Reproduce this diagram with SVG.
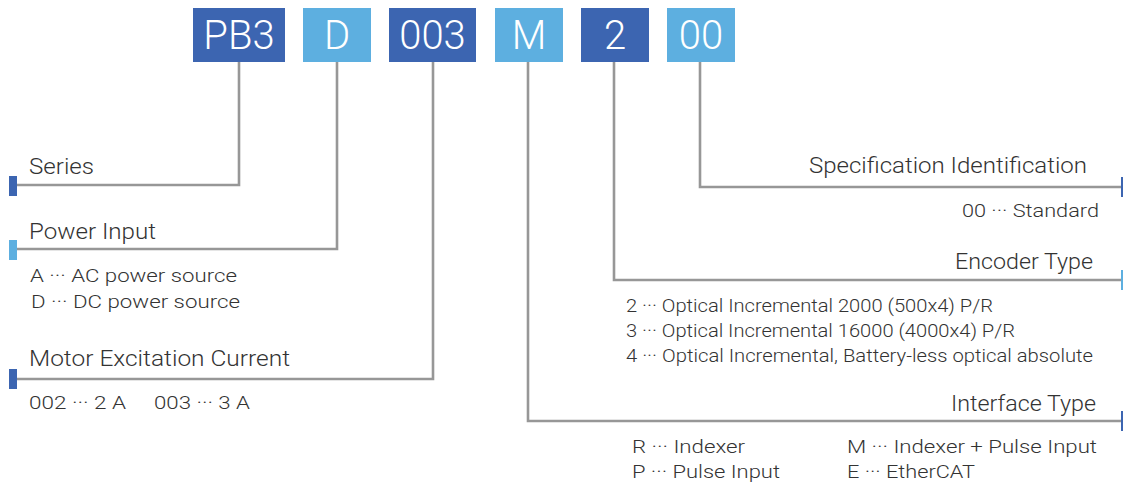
<svg xmlns="http://www.w3.org/2000/svg" width="1123" height="484" viewBox="0 0 1123 484">
<style>
.dk{fill:#3c65b1}
.lt{fill:#5dafe0}
.code{font-family:Roboto,"Liberation Sans",sans-serif;font-weight:300;font-size:40px;fill:#fff;text-anchor:middle}
.h{font-family:Roboto,"Liberation Sans",sans-serif;font-weight:300;font-size:22px;fill:#333}
.s{font-family:Roboto,"Liberation Sans",sans-serif;font-weight:300;font-size:18.5px;fill:#333}
.r{text-anchor:end}
.ln{fill:none;stroke:#979797;stroke-width:2.6}
</style>
<rect width="1123" height="484" fill="#fff"/>
<g id="connectors">
<path class="ln" d="M17,185 H239 V62"/>
<path class="ln" d="M17,249 H337 V62"/>
<path class="ln" d="M17,379 H433 V62"/>
<path class="ln" d="M700,62 V187 H1121"/>
<path class="ln" d="M614,62 V280 H1121"/>
<path class="ln" d="M528,62 V421 H1121"/>
</g>
<g id="box-pb3"><rect class="dk" x="193" y="8" width="92" height="54"/><text class="code" x="239" y="49">PB3</text></g>
<g id="box-d"><rect class="lt" x="303" y="8" width="68" height="54"/><text class="code" x="337" y="49">D</text></g>
<g id="box-003"><rect class="dk" x="389" y="8" width="87" height="54"/><text class="code" x="432.5" y="49">003</text></g>
<g id="box-m"><rect class="lt" x="495" y="8" width="68" height="54"/><text class="code" x="529" y="49">M</text></g>
<g id="box-2"><rect class="dk" x="581" y="8" width="68" height="54"/><text class="code" x="615" y="49">2</text></g>
<g id="box-00"><rect class="lt" x="667" y="8" width="68" height="54"/><text class="code" x="701" y="49">00</text></g>
<g id="series">
<rect class="dk" x="9" y="176" width="8" height="20"/>
<text class="h" x="29" y="174" textLength="65" lengthAdjust="spacingAndGlyphs">Series</text>
</g>
<g id="power-input">
<rect class="lt" x="9" y="240" width="8" height="20"/>
<text class="h" x="29" y="239" textLength="127" lengthAdjust="spacingAndGlyphs">Power Input</text>
<text class="s" x="30" y="282" textLength="207" lengthAdjust="spacingAndGlyphs">A ··· AC power source</text>
<text class="s" x="31" y="308" textLength="209" lengthAdjust="spacingAndGlyphs">D ··· DC power source</text>
</g>
<g id="motor-current">
<rect class="dk" x="9" y="369" width="8" height="20"/>
<text class="h" x="29" y="366" textLength="261" lengthAdjust="spacingAndGlyphs">Motor Excitation Current</text>
<text class="s" x="29" y="409" textLength="97" lengthAdjust="spacingAndGlyphs">002 ··· 2 A</text>
<text class="s" x="154" y="409" textLength="96" lengthAdjust="spacingAndGlyphs">003 ··· 3 A</text>
</g>
<g id="spec-id">
<rect class="dk" x="1121" y="177" width="8" height="20"/>
<text class="h" x="809" y="173" textLength="278" lengthAdjust="spacingAndGlyphs">Specification Identification</text>
<text class="s" x="962" y="217" textLength="137" lengthAdjust="spacingAndGlyphs">00 ··· Standard</text>
</g>
<g id="encoder-type">
<rect class="lt" x="1121" y="270" width="8" height="20"/>
<text class="h" x="955" y="269" textLength="138" lengthAdjust="spacingAndGlyphs">Encoder Type</text>
<text class="s" x="626" y="312" textLength="367" lengthAdjust="spacingAndGlyphs">2 ··· Optical Incremental 2000 (500x4) P/R</text>
<text class="s" x="626" y="337" textLength="389" lengthAdjust="spacingAndGlyphs">3 ··· Optical Incremental 16000 (4000x4) P/R</text>
<text class="s" x="626" y="362" textLength="467" lengthAdjust="spacingAndGlyphs">4 ··· Optical Incremental, Battery-less optical absolute</text>
</g>
<g id="interface-type">
<rect class="dk" x="1121" y="411" width="8" height="20"/>
<text class="h" x="951" y="411" textLength="145" lengthAdjust="spacingAndGlyphs">Interface Type</text>
<text class="s" x="632" y="453" textLength="113" lengthAdjust="spacingAndGlyphs">R ··· Indexer</text>
<text class="s" x="632" y="478" textLength="148" lengthAdjust="spacingAndGlyphs">P ··· Pulse Input</text>
<text class="s" x="847" y="453" textLength="250" lengthAdjust="spacingAndGlyphs">M ··· Indexer + Pulse Input</text>
<text class="s" x="847" y="478" textLength="128" lengthAdjust="spacingAndGlyphs">E ··· EtherCAT</text>
</g>
</svg>
